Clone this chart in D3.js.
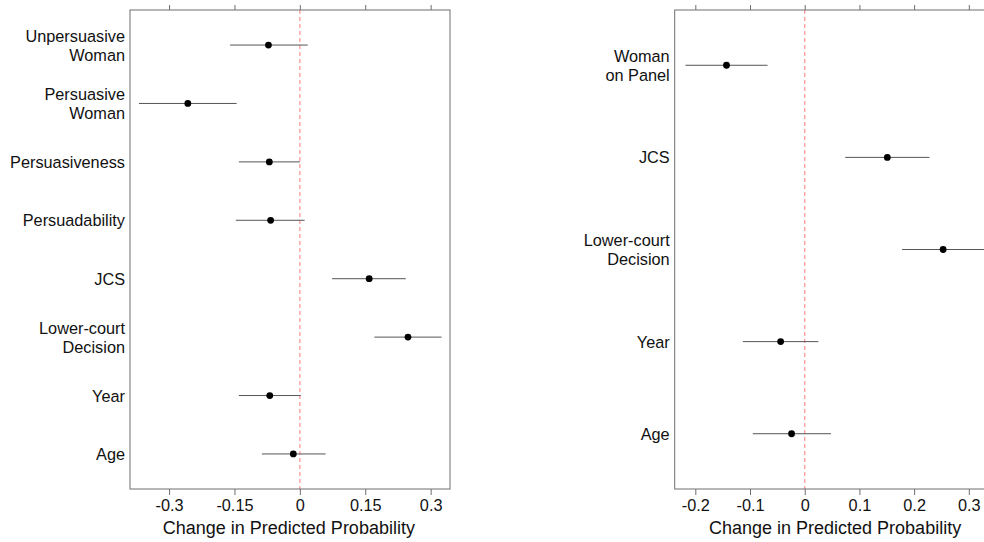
<!DOCTYPE html>
<html>
<head>
<meta charset="utf-8">
<script src="https://cdn.jsdelivr.net/npm/d3@7"></script>
<style>
  body { margin: 0; background: #fff; }
  svg { display: block; font-family: "Liberation Sans", Arial, sans-serif; }
</style>
</head>
<body>
<div id="chart"></div>
<script>
// left panel data
var leftLabels = ["Unpersuasive\nWoman", "Persuasive\nWoman", "Persuasiveness", "Persuadability",
                  "JCS", "Lower-court\nDecision", "Year", "Age"];
var leftEst = [-0.072, -0.257, -0.070, -0.067, 0.159, 0.248, -0.069, -0.015];
var leftLo  = [-0.160, -0.369, -0.140, -0.147, 0.074, 0.171, -0.140, -0.087];
var leftHi  = [ 0.018, -0.145,  0.000,  0.011, 0.243, 0.325,  0.002,  0.059];
var leftTicks = [-0.3, -0.15, 0, 0.15, 0.3];

// right panel data
var rightLabels = ["Woman\non Panel", "JCS", "Lower-court\nDecision", "Year", "Age"];
var rightEst = [-0.143, 0.151, 0.253, -0.044, -0.024];
var rightLo  = [-0.218, 0.074, 0.178, -0.113, -0.095];
var rightHi  = [-0.068, 0.228, 0.330,  0.025,  0.048];
var rightTicks = [-0.2, -0.1, 0, 0.1, 0.2, 0.3];

var W = 984, H = 542;
var svg = d3.select("#chart").append("svg")
    .attr("width", W)
    .attr("height", H);

function panel(opts) {
  var x = d3.scaleLinear().domain(opts.xdom).range([opts.left, opts.right]);
  var n = opts.labels.length;
  var y = d3.scaleLinear().domain([0.4, n + 0.6]).range([opts.top, opts.bottom]);
  var g = svg.append("g");

  // zero reference line
  g.append("line")
    .attr("x1", x(0)).attr("x2", x(0))
    .attr("y1", opts.top).attr("y2", opts.bottom)
    .attr("stroke", "#ff9a9a")
    .attr("stroke-width", 1.3)
    .attr("stroke-dasharray", "4,3");

  var rows = d3.range(n);
  // intervals
  g.selectAll("line.ci")
    .data(rows)
    .enter().append("line")
      .attr("class", "ci")
      .attr("x1", function(i) { return x(opts.lo[i]); })
      .attr("x2", function(i) { return x(opts.hi[i]); })
      .attr("y1", function(i) { return y(i + 1); })
      .attr("y2", function(i) { return y(i + 1); })
      .attr("stroke", "#555")
      .attr("stroke-width", 1);

  g.selectAll("circle")
    .data(rows)
    .enter().append("circle")
      .attr("cx", function(i) { return x(opts.est[i]); })
      .attr("cy", function(i) { return y(i + 1); })
      .attr("r", 3.4)
      .attr("fill", "#000");

  // box
  g.append("rect")
    .attr("x", opts.left).attr("y", opts.top)
    .attr("width", opts.right - opts.left)
    .attr("height", opts.bottom - opts.top)
    .attr("fill", "none")
    .attr("stroke", "#6e6e6e")
    .attr("stroke-width", 1);

  // bottom axis
  var bottomAxis = d3.axisBottom(x)
    .tickValues(opts.ticks)
    .tickSize(6)
    .tickPadding(4)
    .tickFormat(function(d) { return String(d); });
  var ba = g.append("g")
    .attr("transform", "translate(0," + opts.bottom + ")")
    .call(bottomAxis);
  ba.select(".domain").remove();
  ba.selectAll("line").attr("stroke", "#6e6e6e");
  ba.selectAll("text")
    .attr("font-size", 16.3)
    .attr("fill", "#111")
    .attr("font-family", "Liberation Sans, Arial, sans-serif");

  // top ticks, no labels
  var ta = g.append("g")
    .attr("transform", "translate(0," + opts.top + ")")
    .call(d3.axisTop(x).tickValues(opts.ticks).tickSize(5).tickFormat(""));
  ta.select(".domain").remove();
  ta.selectAll("line").attr("stroke", "#6e6e6e");

  // row labels
  rows.forEach(function(i) {
    var lines = opts.labels[i].split("\n");
    var t = g.append("text")
      .attr("text-anchor", "end")
      .attr("font-size", 16.3)
      .attr("fill", "#111")
      .attr("x", opts.left - 5)
      .attr("y", y(i + 1) + 6 - (lines.length - 1) * 9.5);
    lines.forEach(function(s, k) {
      t.append("tspan")
        .attr("x", opts.left - 5)
        .attr("dy", k === 0 ? 0 : 19)
        .text(s);
    });
  });

  // axis title
  g.append("text")
    .attr("x", (x(opts.ticks[0]) + x(opts.ticks[opts.ticks.length - 1])) / 2 + opts.titleShift)
    .attr("y", 534)
    .attr("text-anchor", "middle")
    .attr("font-size", 18)
    .attr("fill", "#111")
    .text("Change in Predicted Probability");
}

panel({
  labels: leftLabels, est: leftEst, lo: leftLo, hi: leftHi, ticks: leftTicks,
  xdom: [-0.3896, 0.3444], left: 130, right: 450, top: 10, bottom: 489, titleShift: -11
});

panel({
  labels: rightLabels, est: rightEst, lo: rightLo, hi: rightHi, ticks: rightTicks,
  xdom: [-0.2377, 0.36], left: 674.7, right: 674.7 + 0.5977 * 547, top: 10, bottom: 489, titleShift: 3
});
</script>
</body>
</html>
